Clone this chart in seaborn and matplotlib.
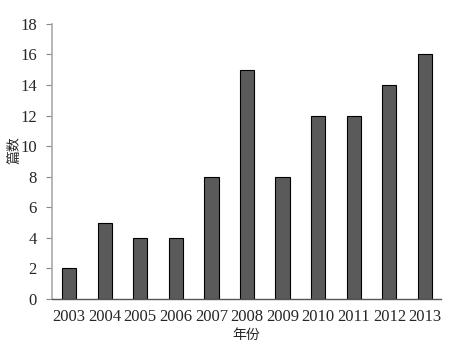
import matplotlib
matplotlib.use("Agg")
import matplotlib.pyplot as plt
import seaborn as sns
import pandas as pd

years = ["2003", "2004", "2005", "2006", "2007", "2008", "2009", "2010", "2011", "2012", "2013"]
counts = [2, 5, 4, 4, 8, 15, 8, 12, 12, 14, 16]
y_ticks = [0, 2, 4, 6, 8, 10, 12, 14, 16, 18]

df = pd.DataFrame({"year": years, "count": counts})

sns.set_style("white")
plt.rcParams["font.family"] = ["Liberation Serif", "Noto Sans CJK SC"]

fig = plt.figure(figsize=(4.49, 3.51), dpi=100)
ax = fig.add_axes([0.116, 0.148, 0.866, 0.784])

sns.barplot(data=df, x="year", y="count", color="#5a5a5a",
            edgecolor="black", linewidth=0.8, width=0.4, saturation=1, ax=ax)

ax.set_ylim(0, 18)
ax.set_xlim(-0.48, 10.45)
ax.set_yticks(y_ticks)
ax.tick_params(axis="y", length=4, width=0.8, color="#888888", labelsize=12, pad=7, left=True)
ax.tick_params(axis="x", length=0, labelsize=12, pad=7)

for side in ["top", "right"]:
    ax.spines[side].set_visible(False)
ax.spines["left"].set_color("#aaaaaa")
ax.spines["bottom"].set_color("#555555")
ax.spines["left"].set_linewidth(1.2)
ax.spines["bottom"].set_linewidth(1.0)

ax.set_xlabel("年份", family=["Noto Sans CJK SC"], fontsize=10)
ax.set_ylabel("篇数", family=["Noto Sans CJK SC"], fontsize=10)
ax.yaxis.set_label_coords(-0.08, 0.54)
ax.xaxis.set_label_coords(0.5, -0.105)

fig.savefig("out.png", dpi=100)
